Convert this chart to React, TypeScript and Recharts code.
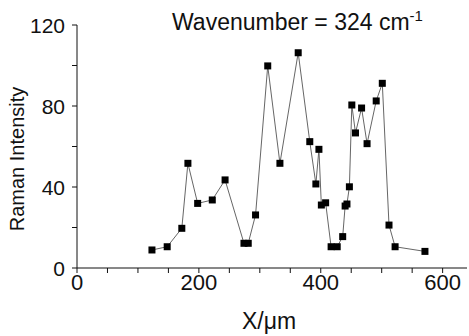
import { LineChart, Line, XAxis, YAxis } from "recharts";

const positions = [
  123, 148, 172, 182, 198, 222, 243, 274, 281, 293, 313, 333, 363, 382, 392, 397, 401,
  408, 417, 427, 436, 440, 443, 447, 451, 457, 467, 476, 491, 501, 512, 522, 571,
];
const intensities = [
  8.9, 10.5, 19.6, 51.7, 31.9, 33.6, 43.5, 12.2, 12.2, 26.2, 99.8, 51.7, 106.3, 62.4, 41.5,
  58.6, 31.1, 32.2, 10.5, 10.5, 15.5, 30.6, 31.6, 40.1, 80.5, 66.7, 79, 61.4, 82.5, 91.2,
  21.2, 10.5, 8.2,
];
const xTicks = [0, 50, 100, 150, 200, 250, 300, 350, 400, 450, 500, 550, 600];
const yTicks = [0, 10, 20, 30, 40, 50, 60, 70, 80, 90, 100, 110, 120];

const data = positions.map((x, i) => ({ x, y: intensities[i] }));

const FONT = '"Liberation Sans", Arial, sans-serif';

const SquareDot = (props: any) => {
  const { cx, cy } = props;
  if (cx == null || cy == null) return null;
  return <rect x={cx - 3.5} y={cy - 3.5} width={7} height={7} fill="#000" />;
};

const XTick = ({ x, y, payload }: any) => {
  if (payload.value % 200 !== 0) return null;
  return (
    <text x={x} y={y} dy="0.71em" textAnchor="middle" fontSize={22} fontFamily={FONT} fill="#111">
      {payload.value}
    </text>
  );
};

const YTick = ({ x, y, payload }: any) => {
  if (payload.value % 40 !== 0) return null;
  return (
    <text x={x} y={y} dy="0.36em" textAnchor="end" fontSize={21} fontFamily={FONT} fill="#111">
      {payload.value}
    </text>
  );
};

export default function App() {
  return (
    <div style={{ position: "absolute", left: 0, top: 0, width: 469, height: 336, background: "#fff" }}>
      <LineChart width={469} height={336} data={data} margin={{ top: 25, right: 2, bottom: 0, left: 0 }}>
        <XAxis
          dataKey="x"
          type="number"
          domain={[0, 640]}
          ticks={xTicks}
          tick={<XTick />}
          tickSize={5}
          tickMargin={1}
          height={68}
          stroke="#111"
          allowDataOverflow
        />
        <YAxis
          type="number"
          domain={[0, 120]}
          ticks={yTicks}
          tick={<YTick />}
          tickSize={5}
          tickMargin={7}
          width={77}
          stroke="#111"
        />
        <Line
          dataKey="y"
          type="linear"
          stroke="#666"
          strokeWidth={1}
          dot={<SquareDot />}
          activeDot={false}
          isAnimationActive={false}
        />
      </LineChart>
      <svg
        width={469}
        height={336}
        style={{ position: "absolute", left: 0, top: 0, pointerEvents: "none" }}
      >
        <text x={172} y={30} fontSize={23} fontFamily={FONT} fill="#111">
          Wavenumber = 324 cm
          <tspan fontSize={15} dy={-9}>-1</tspan>
        </text>
        <text
          x={24}
          y={159}
          fontSize={20}
          fontFamily={FONT}
          fill="#111"
          textAnchor="middle"
          transform="rotate(-90 24 159)"
        >
          Raman Intensity
        </text>
        <text x={269} y={329} fontSize={23} fontFamily={FONT} fill="#111" textAnchor="middle">
          X/μm
        </text>
      </svg>
    </div>
  );
}
